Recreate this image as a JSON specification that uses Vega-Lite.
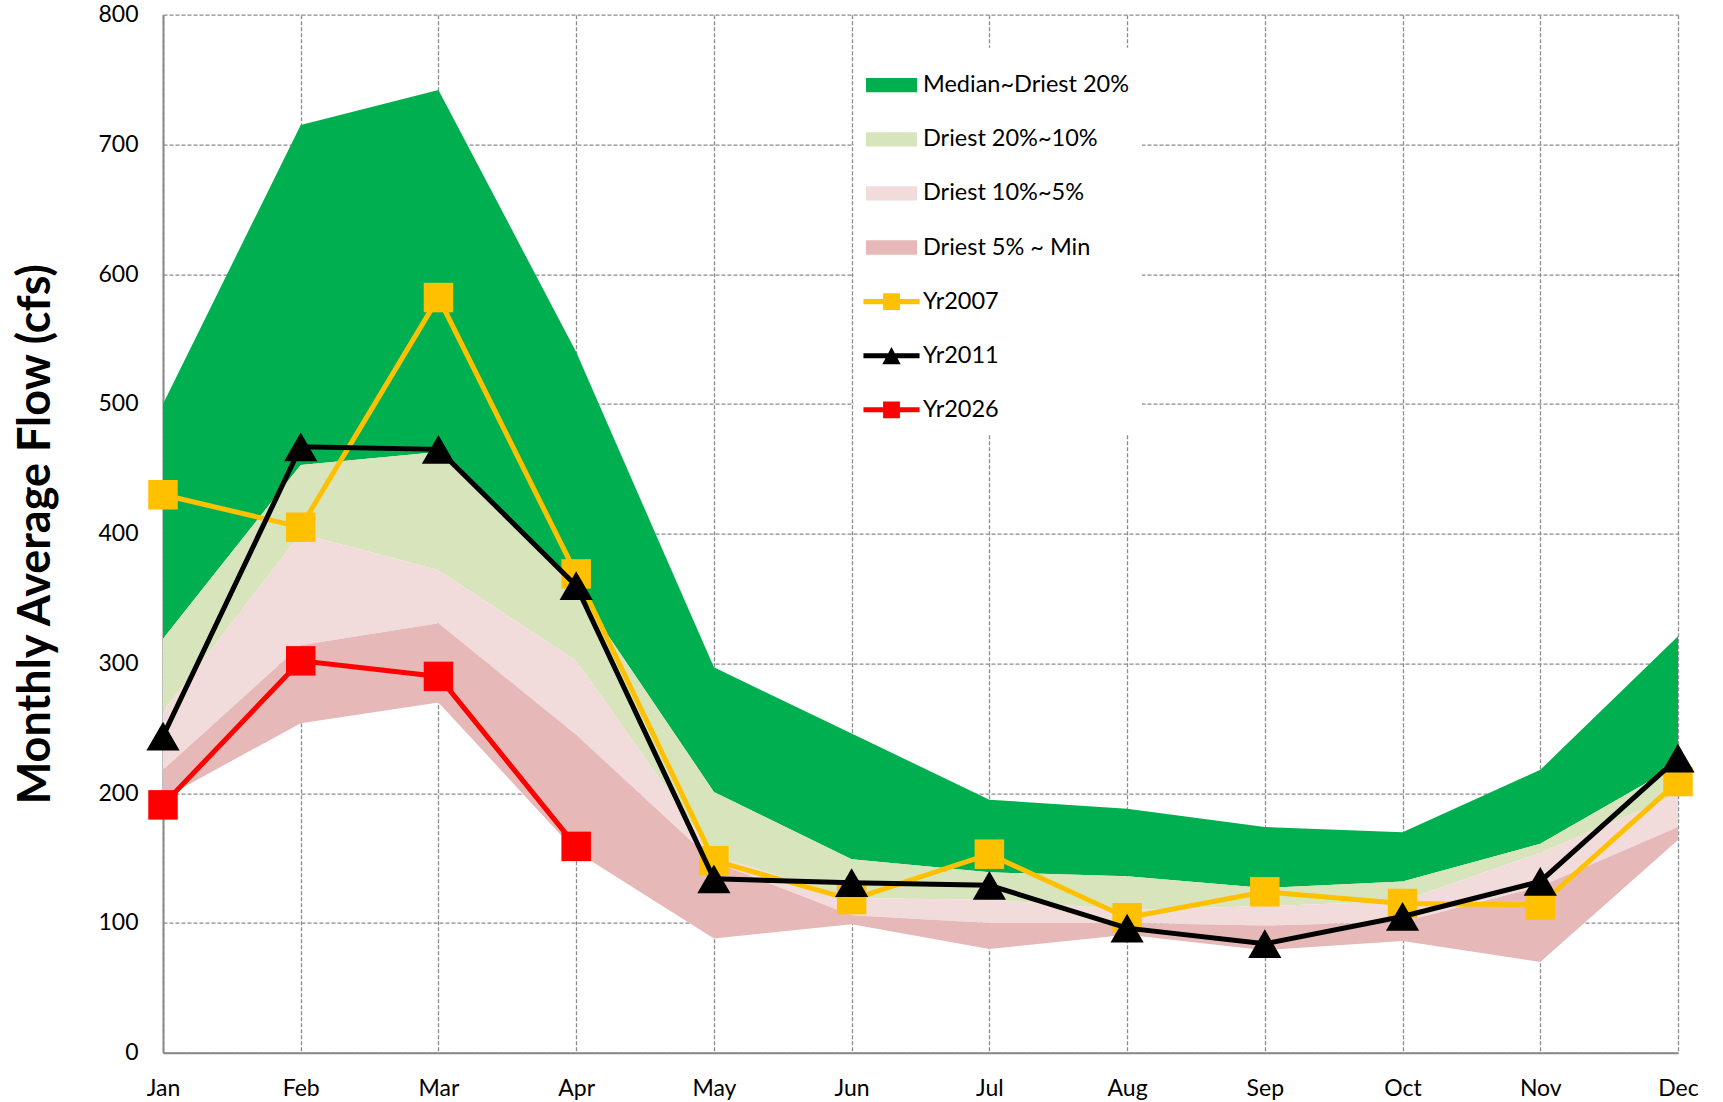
{
  "$schema": "https://vega.github.io/schema/vega-lite/v6.json",
  "width": 1515,
  "height": 1038,
  "autosize": {"type": "none"},
  "padding": {"left": 163, "top": 14.7, "right": 45, "bottom": 49.3},
  "background": "white",
  "config": {
    "view": {"stroke": null},
    "axis": {
      "labelFont": "Lato", "labelFontSize": 23, "labelColor": "#000000",
      "ticks": false, "domainColor": "#898989", "domainWidth": 2,
      "grid": true, "gridColor": "#8c8c8c", "gridDash": [4, 2], "gridWidth": 1.3
    }
  },
  "data": {
    "values": [
      {"month": "Jan", "med": 500, "p20": 319, "p10": 263, "p5": 218, "min": 196, "Yr2007": 430, "Yr2011": 244, "Yr2026": 191},
      {"month": "Feb", "med": 715, "p20": 453, "p10": 400, "p5": 314, "min": 254, "Yr2007": 405, "Yr2011": 467, "Yr2026": 302},
      {"month": "Mar", "med": 742, "p20": 463, "p10": 372, "p5": 331, "min": 270, "Yr2007": 582, "Yr2011": 465, "Yr2026": 290},
      {"month": "Apr", "med": 540, "p20": 358, "p10": 302, "p5": 245, "min": 155, "Yr2007": 369, "Yr2011": 360, "Yr2026": 159},
      {"month": "May", "med": 297, "p20": 201, "p10": 152, "p5": 147, "min": 88, "Yr2007": 148, "Yr2011": 134, "Yr2026": null},
      {"month": "Jun", "med": 246, "p20": 149, "p10": 119, "p5": 106, "min": 99, "Yr2007": 118, "Yr2011": 131, "Yr2026": null},
      {"month": "Jul", "med": 195, "p20": 139, "p10": 118, "p5": 100, "min": 80, "Yr2007": 153, "Yr2011": 129, "Yr2026": null},
      {"month": "Aug", "med": 188, "p20": 136, "p10": 110, "p5": 100, "min": 91, "Yr2007": 104, "Yr2011": 96, "Yr2026": null},
      {"month": "Sep", "med": 174, "p20": 127, "p10": 113, "p5": 98, "min": 79, "Yr2007": 124, "Yr2011": 84, "Yr2026": null},
      {"month": "Oct", "med": 170, "p20": 132, "p10": 117, "p5": 101, "min": 86, "Yr2007": 115, "Yr2011": 105, "Yr2026": null},
      {"month": "Nov", "med": 218, "p20": 161, "p10": 154, "p5": 128, "min": 70, "Yr2007": 114, "Yr2011": 132, "Yr2026": null},
      {"month": "Dec", "med": 321, "p20": 222, "p10": 199, "p5": 174, "min": 164, "Yr2007": 209, "Yr2011": 227, "Yr2026": null}
    ]
  },
  "encoding": {
    "x": {
      "field": "month", "type": "ordinal",
      "sort": ["Jan", "Feb", "Mar", "Apr", "May", "Jun", "Jul", "Aug", "Sep", "Oct", "Nov", "Dec"],
      "scale": {"type": "point", "padding": 0},
      "axis": {"title": null, "labelAngle": 0, "labelPadding": 25}
    }
  },
  "layer": [
    {
      "mark": {"type": "area", "opacity": 1},
      "encoding": {
        "y": {
          "field": "med", "type": "quantitative",
          "scale": {"domain": [0, 800], "nice": false, "zero": true},
          "title": "Monthly Average Flow (cfs)",
          "axis": {
            "values": [0, 100, 200, 300, 400, 500, 600, 700, 800],
            "labelPadding": 25,
            "titleFont": "Lato", "titleFontSize": 45, "titleFontWeight": "bold", "titleColor": "#000000",
            "titleX": -128, "titleY": 519, "titleAngle": 270, "titleBaseline": "middle", "titleAlign": "center"
          }
        },
        "y2": {"field": "p20"},
        "color": {
          "datum": "Median~Driest 20%", "type": "nominal",
          "scale": {
            "domain": ["Median~Driest 20%", "Driest 20%~10%", "Driest 10%~5%", "Driest 5% ~ Min", "Yr2007", "Yr2011", "Yr2026"],
            "range": ["#00B050", "#D8E4BC", "#F2DCDB", "#E6B8B7", "#FFC000", "#000000", "#FF0000"]
          },
          "legend": {
            "title": null, "orient": "none", "direction": "vertical",
            "legendX": 691, "legendY": 33,
            "fillColor": "white", "padding": 12, "rowPadding": 17.1,
            "symbolSize": 2601, "symbolStrokeWidth": 0, "symbolOpacity": 1,
            "labelFont": "Lato", "labelFontSize": 23.5, "labelColor": "#000000",
            "labelOffset": 6, "labelLimit": 400
          }
        }
      }
    },
    {
      "mark": {"type": "area", "opacity": 1},
      "encoding": {
        "y": {"field": "p20", "type": "quantitative", "title": "Monthly Average Flow (cfs)"},
        "y2": {"field": "p10"},
        "color": {"datum": "Driest 20%~10%", "type": "nominal"}
      }
    },
    {
      "mark": {"type": "area", "opacity": 1},
      "encoding": {
        "y": {"field": "p10", "type": "quantitative", "title": "Monthly Average Flow (cfs)"},
        "y2": {"field": "p5"},
        "color": {"datum": "Driest 10%~5%", "type": "nominal"}
      }
    },
    {
      "mark": {"type": "area", "opacity": 1},
      "encoding": {
        "y": {"field": "p5", "type": "quantitative", "title": "Monthly Average Flow (cfs)"},
        "y2": {"field": "min"},
        "color": {"datum": "Driest 5% ~ Min", "type": "nominal"}
      }
    },
    {
      "mark": {"type": "line", "strokeWidth": 5},
      "encoding": {
        "y": {"field": "Yr2007", "type": "quantitative", "title": "Monthly Average Flow (cfs)"},
        "color": {"datum": "Yr2007", "type": "nominal"}
      }
    },
    {
      "mark": {"type": "point", "shape": "square", "filled": true, "size": 870, "opacity": 1},
      "encoding": {
        "y": {"field": "Yr2007", "type": "quantitative", "title": "Monthly Average Flow (cfs)"},
        "color": {"datum": "Yr2007", "type": "nominal"}
      }
    },
    {
      "mark": {"type": "line", "strokeWidth": 5},
      "encoding": {
        "y": {"field": "Yr2011", "type": "quantitative", "title": "Monthly Average Flow (cfs)"},
        "color": {"datum": "Yr2011", "type": "nominal"}
      }
    },
    {
      "mark": {"type": "point", "shape": "triangle-up", "filled": true, "size": 1100, "opacity": 1},
      "encoding": {
        "y": {"field": "Yr2011", "type": "quantitative", "title": "Monthly Average Flow (cfs)"},
        "color": {"datum": "Yr2011", "type": "nominal"}
      }
    },
    {
      "mark": {"type": "line", "strokeWidth": 5},
      "encoding": {
        "y": {"field": "Yr2026", "type": "quantitative", "title": "Monthly Average Flow (cfs)"},
        "color": {"datum": "Yr2026", "type": "nominal"}
      }
    },
    {
      "mark": {"type": "point", "shape": "square", "filled": true, "size": 870, "opacity": 1},
      "encoding": {
        "y": {"field": "Yr2026", "type": "quantitative", "title": "Monthly Average Flow (cfs)"},
        "color": {"datum": "Yr2026", "type": "nominal"}
      }
    },
    {
      "mark": {"type": "point", "filled": true, "size": 4, "opacity": 0},
      "encoding": {
        "y": {"field": "Yr2026", "type": "quantitative", "title": "Monthly Average Flow (cfs)"},
        "shape": {
          "datum": "Yr2026", "type": "nominal",
          "scale": {
            "domain": ["Median~Driest 20%", "Driest 20%~10%", "Driest 10%~5%", "Driest 5% ~ Min", "Yr2007", "Yr2011", "Yr2026"],
            "range": [
              "M-1,-0.28H1V0.28H-1Z",
              "M-1,-0.28H1V0.28H-1Z",
              "M-1,-0.28H1V0.28H-1Z",
              "M-1,-0.28H1V0.28H-1Z",
              "M-1.1,-0.1H1.1V0.1H-1.1Z M-0.33,-0.33H0.33V0.33H-0.33Z",
              "M-1.1,-0.1H1.1V0.1H-1.1Z M0,-0.34L0.36,0.34H-0.36Z",
              "M-1.1,-0.1H1.1V0.1H-1.1Z M-0.33,-0.33H0.33V0.33H-0.33Z"
            ]
          },
          "legend": {"title": null, "symbolSize": 2601, "symbolStrokeWidth": 0, "symbolOpacity": 1}
        }
      }
    }
  ]
}
